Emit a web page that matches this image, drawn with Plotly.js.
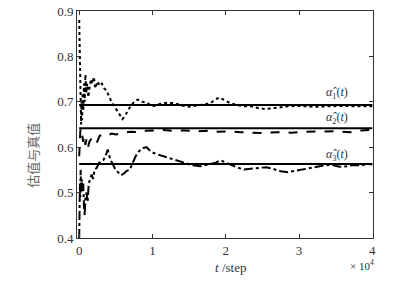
<!DOCTYPE html>
<html>
<head>
<meta charset="utf-8">
<script src="https://cdn.plot.ly/plotly-3.0.1.min.js"></script>
<style>html,body{margin:0;padding:0;background:#fff;}#chart{width:398px;height:281px;}</style>
</head>
<body>
<div id="chart"></div>
<script>
// time steps and estimates
var t1 = [0,30,60,100,150,200,260,320,400,480,560,650,750,850,950,1100,1250,1400,1600,1800,2000,2200,2500,2800,3100,3400,3700,4000,4400,4800,5200,5600,5900,6200,6600,7000,7500,8000,8600,9200,10000,11000,12000,13000,14000,15000,16000,17000,18000,18600,19200,19800,20500,21500,22500,23500,24500,25500,26500,27500,28500,30000,32000,34000,36000,38000,40000];
var alpha1Est = [0.88,0.84,0.80,0.76,0.72,0.68,0.65,0.70,0.66,0.72,0.68,0.74,0.70,0.76,0.72,0.74,0.71,0.73,0.75,0.74,0.755,0.73,0.745,0.735,0.74,0.73,0.725,0.715,0.70,0.69,0.68,0.67,0.662,0.668,0.68,0.69,0.70,0.705,0.70,0.698,0.69,0.695,0.698,0.697,0.692,0.689,0.692,0.694,0.698,0.706,0.709,0.704,0.698,0.693,0.69,0.69,0.686,0.684,0.686,0.689,0.69,0.691,0.689,0.69,0.691,0.69,0.69];

var t2 = [0,40,80,150,250,350,450,550,700,850,1000,1200,1400,1700,2000,2400,2800,3300,3800,4400,5000,6000,7000,8000,9000,10000,11500,13000,14500,16000,17500,19000,20500,22000,23500,25000,27000,29000,31000,33000,35000,37000,38500,40000];
var alpha2Est = [0.58,0.62,0.60,0.635,0.642,0.63,0.62,0.612,0.625,0.605,0.618,0.60,0.612,0.62,0.622,0.61,0.625,0.628,0.625,0.63,0.628,0.632,0.634,0.633,0.636,0.637,0.638,0.636,0.637,0.635,0.636,0.634,0.635,0.633,0.632,0.631,0.633,0.632,0.634,0.634,0.635,0.633,0.637,0.638];

var t3 = [0,30,60,100,150,200,280,360,450,550,650,750,850,1000,1150,1300,1500,1700,1900,2100,2400,2700,3000,3300,3600,3900,4200,4500,4900,5300,5700,6100,6500,6900,7300,7700,8200,8700,9200,9800,10500,11500,12500,13500,14500,15500,16500,17500,18500,19300,20000,20800,21600,22500,23500,24500,25500,26500,27500,28500,29500,30500,31500,32500,33500,34500,35500,36500,37500,38500,39300,40000];
var alpha3Est = [0.40,0.47,0.43,0.52,0.49,0.55,0.51,0.53,0.50,0.52,0.47,0.45,0.49,0.50,0.48,0.52,0.53,0.54,0.53,0.55,0.555,0.565,0.57,0.572,0.58,0.595,0.575,0.565,0.552,0.545,0.538,0.542,0.548,0.55,0.565,0.58,0.592,0.598,0.60,0.59,0.585,0.58,0.576,0.57,0.565,0.56,0.558,0.561,0.565,0.571,0.566,0.561,0.555,0.551,0.553,0.555,0.556,0.552,0.547,0.545,0.548,0.55,0.553,0.556,0.56,0.561,0.557,0.558,0.561,0.56,0.563,0.562];

var trueValues = [0.693, 0.642, 0.563];
var tSpan = [0, 40000];
var xTickVals = [0, 10000, 20000, 30000, 40000];
var xTickText = ['0', '1', '2', '3', '4'];
var yTickVals = [0.4, 0.5, 0.6, 0.7, 0.8, 0.9];
var seriesLabels = ['<i>α\u0302</i><sub>1</sub>(<i>t</i>)', '<i>α\u0302</i><sub>2</sub>(<i>t</i>)', '<i>α\u0302</i><sub>3</sub>(<i>t</i>)'];

var traces = [];
trueValues.forEach(function (v) {
  traces.push({x: tSpan, y: tSpan.map(function(){return v;}), mode: 'lines',
    line: {color: '#000', width: 2}, hoverinfo: 'skip'});
});
traces.push({x: t1, y: alpha1Est, mode: 'lines', line: {color: '#000', width: 2, dash: 'dot'}});
traces.push({x: t2, y: alpha2Est, mode: 'lines', line: {color: '#000', width: 2, dash: 'dash'}});
traces.push({x: t3, y: alpha3Est, mode: 'lines', line: {color: '#000', width: 2, dash: 'dashdot'}});

var serif = 'Liberation Serif, Times New Roman, serif';
var axisCommon = {
  showgrid: false, zeroline: false, showline: true, linecolor: '#333', linewidth: 1,
  mirror: 'ticks', ticks: 'inside', ticklen: 4, tickcolor: '#333',
  tickfont: {family: serif, size: 13, color: '#333'}
};

function lab(text, x, y, size, extra) {
  return Object.assign({text: text, xref: 'paper', yref: 'paper', x: x, y: y,
    xanchor: 'center', yanchor: 'middle', showarrow: false,
    font: {family: serif, size: size, color: '#333'}}, extra || {});
}

var layout = {
  width: 398, height: 281,
  margin: {l: 77, r: 25, t: 11, b: 43},
  paper_bgcolor: '#fff', plot_bgcolor: '#fff',
  showlegend: false,
  xaxis: Object.assign({}, axisCommon, {range: [-300, 40100], tickvals: xTickVals, ticktext: xTickText}),
  yaxis: Object.assign({}, axisCommon, {range: [0.4, 0.9], tickvals: yTickVals, tickformat: '.1f'}),
  annotations: [
    lab(seriesLabels[0], 0.878, 0.639, 12),
    lab(seriesLabels[1], 0.878, 0.529, 12),
    lab(seriesLabels[2], 0.878, 0.366, 12),
    lab('<i>t</i> /step', 0.517, -0.132, 13),
    lab('× 10<sup>4</sup>', 0.963, -0.118, 11),
    lab('估值与真值', -0.149, 0.366, 13, {textangle: -90, font: {family: 'Noto Sans CJK SC', size: 13, color: '#666'}})
  ]
};

Plotly.newPlot('chart', traces, layout, {staticPlot: true, displayModeBar: false});
</script>
</body>
</html>
